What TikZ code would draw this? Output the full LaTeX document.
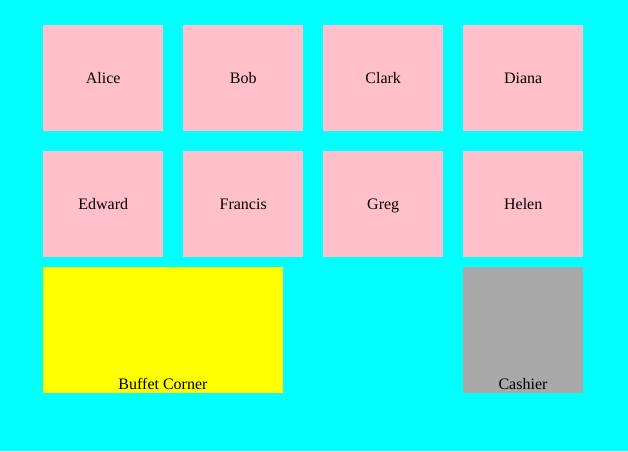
\documentclass[tikz,border=0pt]{standalone}
\usepackage{fontspec}
\setmainfont{Liberation Serif}
\definecolor{bgcyan}{HTML}{00FFFF}
\definecolor{seatpink}{HTML}{FFC0CB}
\definecolor{buffetyellow}{HTML}{FFFF00}
\definecolor{cashgray}{HTML}{A9A9A9}
\begin{document}
\begin{tikzpicture}[x=1pt,y=1pt,
  seat/.style={fill=seatpink, draw=none, minimum width=120pt, minimum height=106pt, anchor=south west, inner sep=0pt, text height=15pt, text depth=3pt, font=\fontsize{16}{19}\selectfont},
  lbl/.style={anchor=base, inner sep=0pt, font=\fontsize{16}{19}\selectfont}]
\fill[bgcyan] (0,0) rectangle (628,451);
\useasboundingbox (0,0) rectangle (628,451);
% row 1 (y 25-131)
\node[seat] (alice) at (43,320) {Alice};
\node[seat] (bob) at (183,320) {Bob};
\node[seat] (clark) at (323,320) {Clark};
\node[seat] (diana) at (463,320) {Diana};
% row 2 (y 151-257)
\node[seat] (edward) at (43,194) {Edward};
\node[seat] (francis) at (183,194) {Francis};
\node[seat] (greg) at (323,194) {Greg};
\node[seat] (helen) at (463,194) {Helen};
% bottom
\fill[buffetyellow] (43,58.5) rectangle (283,184);
\fill[cashgray] (463,58.5) rectangle (583,184);
\node[lbl] (buffet) at (163,62) {Buffet Corner};
\node[lbl] (cashier) at (523,62) {Cashier};
\end{tikzpicture}
\end{document}
